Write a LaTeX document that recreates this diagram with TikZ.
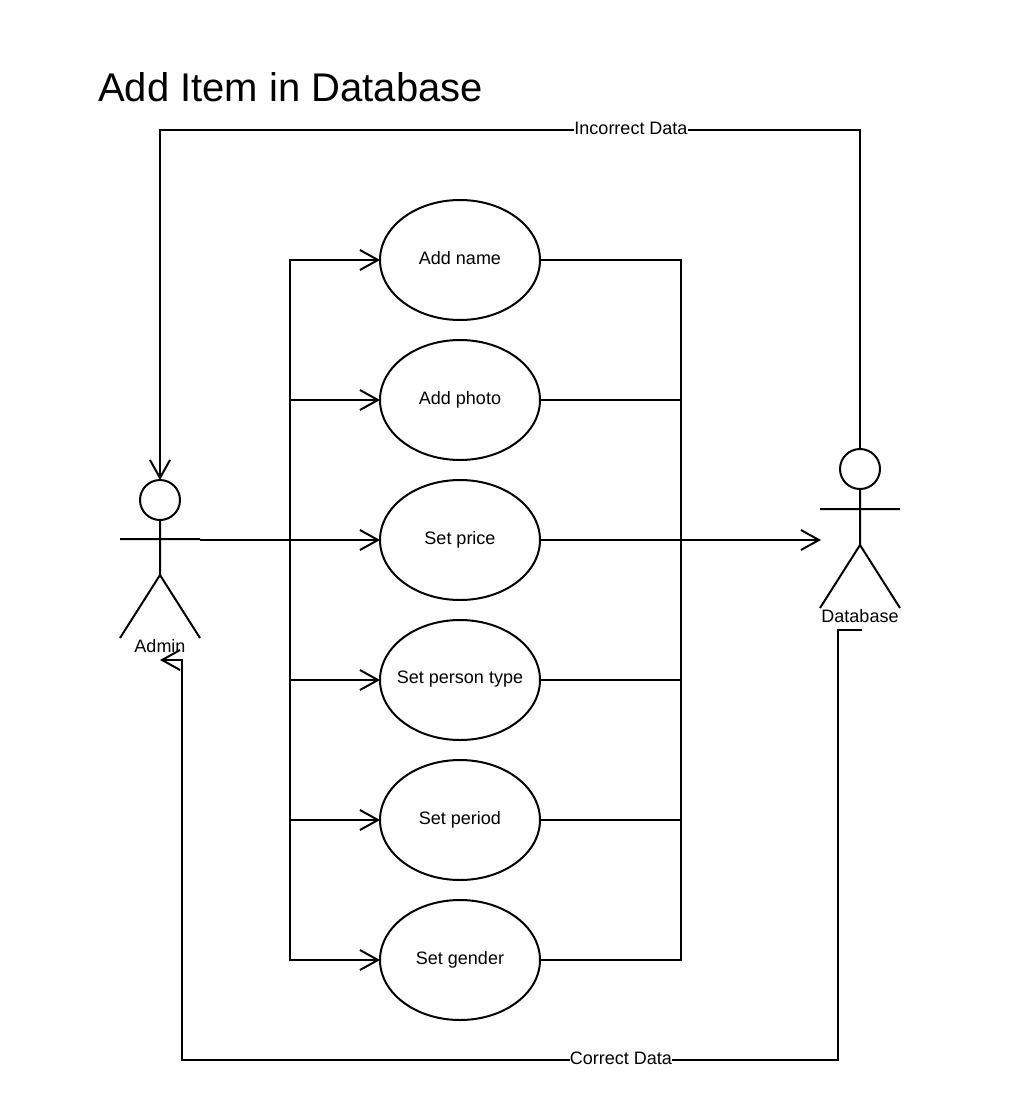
\documentclass[tikz,border=0pt]{standalone}
\usepackage{fontspec}
\setmainfont{Liberation Sans}
\usetikzlibrary{shapes.geometric,arrows.meta}
\tikzset{
  usecase/.style={draw,ellipse,line width=2pt,minimum width=160pt,minimum height=120pt,inner sep=0pt,outer sep=0pt,font=\fontsize{18}{20}\selectfont},
  line/.style={draw,line width=2pt,line join=miter},
  flow/.style={line,-{Straight Barb[length=18pt,width=20pt,line width=2pt]}},
  head/.style={draw,circle,line width=2pt,minimum size=40pt,inner sep=0pt,outer sep=0pt},
  tag/.style={inner sep=0pt,font=\fontsize{18}{20}\selectfont},
  edgetag/.style={tag,fill=white,inner xsep=0pt,inner ysep=2pt},
}
\newcommand{\uctext}[1]{\raisebox{5pt}{\makebox[0pt]{#1}}}
\begin{document}
\begin{tikzpicture}[x=1pt,y=-1pt]
\useasboundingbox (0,0) rectangle (1020,1111);
\node[anchor=base west,inner sep=0pt,font=\fontsize{40}{46}\selectfont] (title) at (98,101) {Add Item in Database};

\node[usecase] (name) at (460,260) {\uctext{Add name}};
\node[usecase] (photo) at (460,400) {\uctext{Add photo}};
\node[usecase] (price) at (460,540) {\uctext{Set price}};
\node[usecase] (person) at (460,680) {\uctext{Set person type}};
\node[usecase] (period) at (460,820) {\uctext{Set period}};
\node[usecase] (gender) at (460,960) {\uctext{Set gender}};

% Admin actor
\node[head] (adminhead) at (160,500) {};
\coordinate (adminarmL) at (120,539);
\coordinate (adminarmR) at (200,539);
\coordinate (adminhip) at (160,575);
\coordinate (adminfootL) at (120,638);
\coordinate (adminfootR) at (200,638);
\path[line] (adminhead.south) -- (adminhip) (adminarmL) -- (adminarmR) (adminfootL) -- (adminhip) -- (adminfootR);
\node[tag] (adminlabel) at (160,646.5) {Admin};

% Database actor
\node[head] (dbhead) at (860,469) {};
\coordinate (dbarmL) at (820,509);
\coordinate (dbarmR) at (900,509);
\coordinate (dbhip) at (860,545);
\coordinate (dbfootL) at (820,608);
\coordinate (dbfootR) at (900,608);
\path[line] (dbhead.south) -- (dbhip) (dbarmL) -- (dbarmR) (dbfootL) -- (dbhip) -- (dbfootR);
\node[tag] (dblabel) at (860,616.5) {Database};

% Admin to use cases
\coordinate (adminout) at (200,540);
\coordinate (dbin) at (821,540);
\coordinate (ltop) at (290,260);
\coordinate (lbot) at (290,960);
\coordinate (rtop) at (681,260);
\coordinate (rbot) at (681,960);
\path[line] (name.east) -- (rtop) -- (rbot) -- (gender.east);
\path[line,line cap=rect] (ltop) -- (lbot);
\path[flow] (ltop) -- (name.west);
\path[flow] (lbot) -- (gender.west);
\path[flow] (290,400) -- (photo.west);
\path[flow] (adminout) -- (price.west);
\path[flow] (290,680) -- (person.west);
\path[flow] (290,820) -- (period.west);
\path[line] (photo.east) -- (681,400);
\path[line] (person.east) -- (681,680);
\path[line] (period.east) -- (681,820);
\path[flow] (price.east) -- (dbin);

% Return flows
\coordinate (corrstart) at (862,630);
\coordinate (corrend) at (160,660);
\path[flow] (dbhead.north) -- (860,130) -- (160,130) -- (adminhead.north);
\path[flow] (corrstart) -- (838,630) -- (838,1060) -- (182,1060) -- (182,660) -- (corrend);
\node[edgetag] (incorrect) at (631,128) {Incorrect Data};
\node[edgetag] (correct) at (621,1058) {Correct Data};
\end{tikzpicture}
\end{document}
